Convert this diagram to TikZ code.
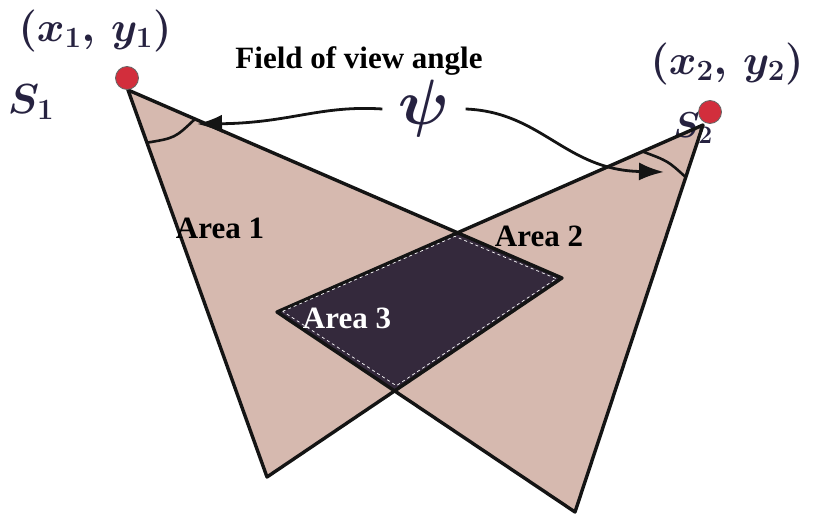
\RequirePackage{fix-cm}
\documentclass[tikz,border=0pt]{standalone}
\usepackage{fontspec}
\setmainfont{Liberation Serif}
\usepackage{tikz}
\usetikzlibrary{calc,arrows.meta}
\usepackage{xcolor}
\definecolor{conefill}{RGB}{214,185,175}
\definecolor{overlapfill}{RGB}{52,41,60}
\definecolor{sensorred}{RGB}{210,46,60}
\definecolor{labelnavy}{RGB}{38,34,64}

\begin{document}
\begin{tikzpicture}[x=1pt,y=-1pt,
    edge/.style={line width=3.4pt,black!92,line join=round},
    sensor/.style={circle,fill=sensorred,draw=black!60,line width=0.8pt,inner sep=0pt,minimum size=23pt},
    arealabel/.style={font=\fontsize{31}{33}\selectfont\bfseries},
    coordlabel/.style={font=\fontsize{42}{44}\selectfont\boldmath,text=labelnavy},
    pointer/.style={line width=2.8pt,black!92,-{Latex[length=25pt,width=18pt]}}]
        \useasboundingbox (0,0) rectangle (820,516);
        % cone of sensor 1
        \coordinate (a1) at (128,90);
        \coordinate (b1) at (562,278);
        \coordinate (c1) at (267,477);
        % cone of sensor 2
        \coordinate (a2) at (703,125);
        \coordinate (b2) at (277,312);
        \coordinate (c2) at (575,512);
        % where the two cones cross
        \coordinate (t) at (457,233);
        \coordinate (u) at (395,391);
        \coordinate (m) at ($(b2)!0.5!(b1)$);
        \fill[conefill] (a1)--(b1)--(c1)--cycle;
        \fill[conefill] (a2)--(b2)--(c2)--cycle;
        \fill[overlapfill] (b2)--(t)--(b1)--(u)--cycle;
        \node[coordlabel,font=\fontsize{36}{38}\selectfont\boldmath] (s2) at (693,128) {$S_2$};
        \draw[edge] (a1)--(b1)--(c1)--cycle;
        \draw[edge] (a2)--(b2)--(c2)--cycle;
        \draw[white,dashed,line width=0.7pt] ($(m)!0.96!(b2)$)--($(m)!0.945!(t)$)--($(m)!0.96!(b1)$)--($(m)!0.945!(u)$)--cycle;
        % angle marks
        \draw[edge,line width=2.6pt] ($(a1)!56pt!(c1)$) .. controls (175,138) .. ($(a1)!73pt!(b1)$);
        \draw[edge,line width=2.6pt] ($(a2)!66pt!(b2)$) .. controls (668,161) .. ($(a2)!55pt!(c2)$);
        \node[sensor] (p1) at (127,78) {};
        \node[sensor] (p2) at (710,112) {};
        \node[coordlabel] (xy1) at (95,31) {$(x_1,\,y_1)$};
        \node[coordlabel] (xy2) at (727,64) {$(x_2,\,y_2)$};
        \node[coordlabel] (s1) at (31,102) {$S_1$};
        \node[font=\fontsize{31}{33}\selectfont\bfseries,inner sep=1pt] (fov) at (359,61) {Field of view angle};
        \node[font=\fontsize{64}{64}\selectfont\boldmath,text=labelnavy,inner xsep=16pt,inner ysep=0pt] (psi) at (424,109) {$\psi$};
        \coordinate (tip1) at (197,124);
        \coordinate (tip2) at (664,172);
        \draw[pointer] (psi.west) .. controls (320,105) and (290,123) .. (tip1);
        \draw[pointer] (psi.east) .. controls (542,112) and (565,170) .. (tip2);
        \node[arealabel] (ar1) at (220,228) {Area 1};
        \node[arealabel] (ar2) at (539,236) {Area 2};
        \node[arealabel,text=white] (ar3) at (347,318) {Area 3};
      \end{tikzpicture}
\end{document}
